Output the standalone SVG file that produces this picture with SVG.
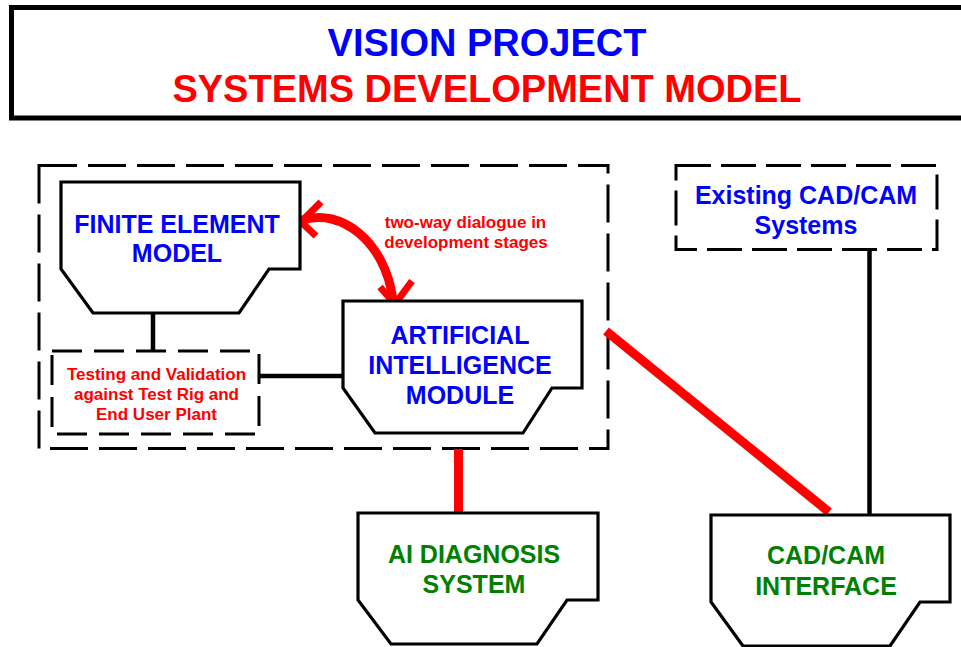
<svg xmlns="http://www.w3.org/2000/svg" width="961" height="647" viewBox="0 0 961 647">
  <style>
    text { font-family: "Liberation Sans", Arial, sans-serif; font-weight: bold; text-anchor: middle; }
    .title-blue { fill: #0000FF; font-size: 38px; }
    .title-red { fill: #FF0000; font-size: 38px; }
    .blue { fill: #0000FF; font-size: 25px; }
    .green { fill: #008000; font-size: 25px; }
    .note { fill: #FF0000; font-size: 17px; }
    .box { fill: #FFFFFF; stroke: #000000; stroke-width: 3.2; stroke-linejoin: miter; }
    .dash { fill: none; stroke: #000000; stroke-width: 3; }
    .link { stroke: #000000; stroke-width: 4.5; fill: none; }
    .red-link { stroke: #FF0000; stroke-width: 9; fill: none; }
    .dialogue { stroke: #FF0000; fill: none; }
  </style>

  <rect width="961" height="647" fill="#FFFFFF"/>

  <!-- title banner -->
  <g id="title">
    <rect x="11.5" y="7.5" width="960" height="110.5" fill="#FFFFFF" stroke="#000000" stroke-width="5"/>
    <text class="title-blue" x="487" y="56">VISION PROJECT</text>
    <text class="title-red" x="487" y="102">SYSTEMS DEVELOPMENT MODEL</text>
  </g>

  <!-- development boundary -->
  <g id="development-boundary">
    <rect class="dash" x="39" y="165.5" width="569" height="283" stroke-dasharray="38 11"/>
  </g>

  <!-- connectors -->
  <g id="connectors">
    <line class="link" x1="153" y1="313" x2="153" y2="351"/>
    <line class="link" x1="259" y1="376" x2="343" y2="376"/>
    <line class="link" x1="869.5" y1="249" x2="869.5" y2="515"/>
    <line class="red-link" x1="458.5" y1="449" x2="458.5" y2="514"/>
    <line class="red-link" x1="606" y1="331" x2="829" y2="512"/>
    <!-- two-way dialogue arrow -->
    <path class="dialogue" stroke-width="9" d="M303,220 C340,208 385,240 393,300"/>
    <polyline class="dialogue" stroke-width="7" stroke-linejoin="miter" points="321,202 301,222 316,236"/>
    <polyline class="dialogue" stroke-width="7" stroke-linejoin="miter" points="380,287 395,304 412,281"/>
  </g>

  <g id="dialogue-label">
    <text class="note" x="465.5" y="228">two-way dialogue in</text>
    <text class="note" x="466" y="248">development stages</text>
  </g>

  <!-- finite element model -->
  <g id="finite-element-model">
    <path class="box" d="M61,182 H300 V269 H269 L239,313 H93 L61,269 Z"/>
    <text class="blue" x="177" y="233">FINITE ELEMENT</text>
    <text class="blue" x="177" y="262">MODEL</text>
  </g>

  <!-- testing and validation -->
  <g id="testing-validation">
    <rect x="52" y="351" width="207" height="83" fill="#FFFFFF" stroke="#000000" stroke-width="3" stroke-dasharray="30 12"/>
    <text class="note" x="156.5" y="380">Testing and Validation</text>
    <text class="note" x="156.5" y="400">against Test Rig and</text>
    <text class="note" x="156.5" y="420">End User Plant</text>
  </g>

  <!-- artificial intelligence module -->
  <g id="ai-module">
    <path class="box" d="M343,301 H582 V388 H552 L523,433 H375 L343,388 Z"/>
    <text class="blue" x="460" y="344">ARTIFICIAL</text>
    <text class="blue" x="460" y="374">INTELLIGENCE</text>
    <text class="blue" x="460" y="404">MODULE</text>
  </g>

  <!-- existing CAD/CAM systems -->
  <g id="existing-cadcam">
    <rect x="676" y="165.5" width="261" height="84" fill="#FFFFFF" stroke="#000000" stroke-width="3" stroke-dasharray="35 10"/>
    <text class="blue" x="806" y="204">Existing CAD/CAM</text>
    <text class="blue" x="806" y="234">Systems</text>
  </g>

  <!-- AI diagnosis system -->
  <g id="ai-diagnosis">
    <path class="box" d="M358,513 H598 V600 H567 L537,644 H391 L358,600 Z"/>
    <text class="green" x="474" y="563">AI DIAGNOSIS</text>
    <text class="green" x="474" y="593">SYSTEM</text>
  </g>

  <!-- CAD/CAM interface -->
  <g id="cadcam-interface">
    <path class="box" d="M711,515 H950 V602 H920 L890,646 H743 L711,602 Z"/>
    <text class="green" x="826" y="564">CAD/CAM</text>
    <text class="green" x="826" y="595">INTERFACE</text>
  </g>
</svg>
